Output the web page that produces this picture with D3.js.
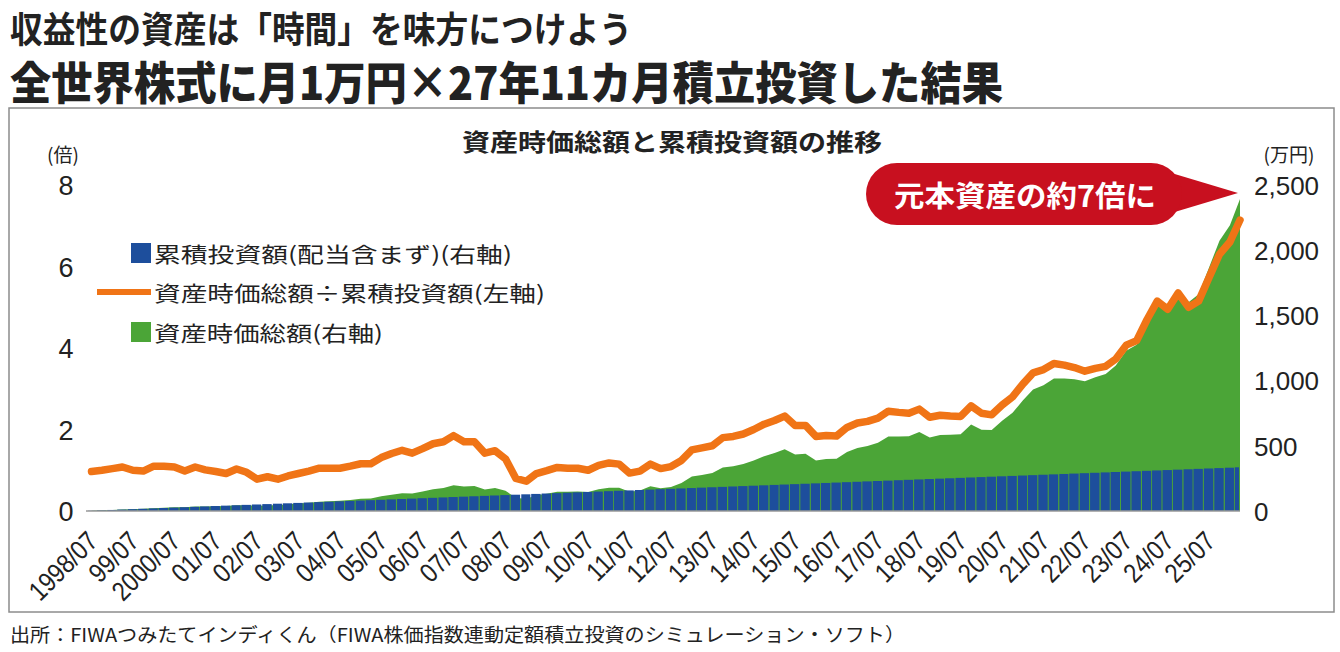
<!DOCTYPE html>
<html>
<head>
<meta charset="utf-8">
<script src="https://d3js.org/d3.v7.min.js"></script>
<style>
body { margin: 0; background: #fff; }
text { font-family: "Noto Sans CJK JP", sans-serif; fill: #222; }
.num { font-family: "Liberation Sans", Arial, sans-serif; }
</style>
</head>
<body>
<svg id="chart" width="1340" height="652"></svg>
<script>
// quarterly points, 1998/08 .. 2026/05
// 資産時価総額÷累積投資額 (倍, left axis)
var ratio = [
  0.97, 1.00, 1.04, 1.08, 1.00, 0.98, 1.10, 1.10, 1.08, 0.98,
  1.08, 1.01, 0.97, 0.92, 1.03, 0.95, 0.78, 0.84, 0.78, 0.86,
  0.92, 0.98, 1.05, 1.05, 1.05, 1.10, 1.16, 1.16, 1.31, 1.41,
  1.49, 1.42, 1.53, 1.65, 1.70, 1.85, 1.70, 1.70, 1.42, 1.48,
  1.28, 0.80, 0.73, 0.92, 0.99, 1.07, 1.05, 1.05, 1.00, 1.12,
  1.18, 1.15, 0.93, 0.98, 1.15, 1.04, 1.09, 1.24, 1.50, 1.55,
  1.60, 1.80, 1.83, 1.89, 2.00, 2.13, 2.22, 2.33, 2.10, 2.10,
  1.83, 1.85, 1.84, 2.05, 2.16, 2.20, 2.28, 2.45, 2.42, 2.40,
  2.50, 2.30, 2.35, 2.33, 2.32, 2.58, 2.40, 2.36, 2.60, 2.80,
  3.12, 3.39, 3.47, 3.62, 3.58, 3.52, 3.43, 3.50, 3.55, 3.73,
  4.07, 4.18, 4.70, 5.15, 4.95, 5.35, 5.00, 5.15, 5.73, 6.30,
  6.60, 7.14
];
// 資産時価総額 (万円, right axis)
var assetValue = [
  2, 5, 8, 12, 14, 17, 22, 25, 28, 28,
  35, 35, 37, 38, 45, 45, 39, 45, 44, 51,
  57, 64, 71, 75, 78, 85, 93, 96, 113, 125,
  137, 135, 150, 167, 177, 198, 187, 192, 165, 176,
  156, 100, 93, 121, 133, 147, 147, 150, 146, 167,
  179, 178, 147, 158, 189, 174, 185, 215, 264, 277,
  291, 333, 344, 361, 388, 420, 444, 473, 433, 439,
  388, 398, 401, 453, 484, 499, 524, 571, 571, 574,
  605, 564, 583, 585, 589, 663, 624, 621, 692, 753,
  849, 932, 965, 1017, 1017, 1010, 995, 1026, 1051, 1115,
  1229, 1275, 1448, 1602, 1554, 1696, 1600, 1663, 1868, 2073,
  2191, 2392
];
// 累積投資額 (万円, right axis)
var invested = [
  2, 5, 8, 11, 14, 17, 20, 23, 26, 29,
  32, 35, 38, 41, 44, 47, 50, 53, 56, 59,
  62, 65, 68, 71, 74, 77, 80, 83, 86, 89,
  92, 95, 98, 101, 104, 107, 110, 113, 116, 119,
  122, 125, 128, 131, 134, 137, 140, 143, 146, 149,
  152, 155, 158, 161, 164, 167, 170, 173, 176, 179,
  182, 185, 188, 191, 194, 197, 200, 203, 206, 209,
  212, 215, 218, 221, 224, 227, 230, 233, 236, 239,
  242, 245, 248, 251, 254, 257, 260, 263, 266, 269,
  272, 275, 278, 281, 284, 287, 290, 293, 296, 299,
  302, 305, 308, 311, 314, 317, 320, 323, 326, 329,
  332, 335
];
var tickLabels = ["1998/07", "99/07", "2000/07", "01/07", "02/07", "03/07", "04/07",
  "05/07", "06/07", "07/07", "08/07", "09/07", "10/07", "11/07", "12/07", "13/07",
  "14/07", "15/07", "16/07", "17/07", "18/07", "19/07", "20/07", "21/07", "22/07",
  "23/07", "24/07", "25/07"];
var leftTicks = [0, 2, 4, 6, 8];
var rightTicks = [0, 500, 1000, 1500, 2000, 2500];
var legendLabels = ["累積投資額(配当含まず)(右軸)", "資産時価総額÷累積投資額(左軸)", "資産時価総額(右軸)"];

var blue = "#1d4e9c", orange = "#f07416", green = "#4ba537", red = "#c8101f";

var svg = d3.select("#chart");
var dates = d3.timeMonth.range(new Date(1998, 7, 1), new Date(2026, 5, 1), 3);
var tickDates = d3.timeMonth.range(new Date(1998, 6, 1), new Date(2025, 7, 1), 12);
var data = dates.map(function(d, i) {
  return { date: d, r: ratio[i], v: assetValue[i], inv: invested[i] };
});

var x0 = 88, x1 = 1240;
var x = d3.scaleTime()
  .domain([new Date(1998, 6, 1), new Date(2026, 4, 1)])
  .range([x0, x1]);
var yL = d3.scaleLinear().domain([0, 8]).range([511, 185]);
var yR = d3.scaleLinear().domain([0, 2500]).range([511, 185]);

// titles
svg.append("text")
  .attr("x", 10).attr("y", 27)
  .attr("dominant-baseline", "central")
  .attr("font-size", 36).attr("font-weight", 700)
  .attr("textLength", 622).attr("lengthAdjust", "spacingAndGlyphs")
  .text("収益性の資産は「時間」を味方につけよう");
svg.append("text")
  .attr("x", 10).attr("y", 80)
  .attr("dominant-baseline", "central")
  .attr("font-size", 45).attr("font-weight", 900)
  .attr("textLength", 993).attr("lengthAdjust", "spacingAndGlyphs")
  .text("全世界株式に月1万円×27年11カ月積立投資した結果");

// frame
svg.append("rect")
  .attr("x", 9).attr("y", 108).attr("width", 1325).attr("height", 504)
  .attr("fill", "none").attr("stroke", "#8c8c8c").attr("stroke-width", 1.5);

svg.append("text")
  .attr("x", 672).attr("y", 140)
  .attr("text-anchor", "middle").attr("dominant-baseline", "central")
  .attr("font-size", 24).attr("font-weight", 700)
  .attr("textLength", 420).attr("lengthAdjust", "spacingAndGlyphs")
  .text("資産時価総額と累積投資額の推移");

// green area (資産時価総額)
svg.append("path")
  .datum(data)
  .attr("fill", green)
  .attr("d", d3.area()
    .x(function(d) { return x(d.date); })
    .y0(yR(0))
    .y1(function(d) { return yR(d.v); }));

// blue bars (累積投資額)
svg.append("g").selectAll("rect")
  .data(data)
  .enter().append("rect")
    .attr("fill", blue)
    .attr("x", function(d) {
      var w = x(d3.timeMonth.offset(d.date, 3)) - x(d.date);
      return Math.max(x0, x(d.date) - w / 2);
    })
    .attr("width", function(d) {
      var w = x(d3.timeMonth.offset(d.date, 3)) - x(d.date);
      var l = Math.max(x0, x(d.date) - w / 2), r = Math.min(x1, x(d.date) + w / 2);
      return Math.max(0, r - l - 1);
    })
    .attr("y", function(d) { return yR(d.inv); })
    .attr("height", function(d) { return yR(0) - yR(d.inv); });

// baseline
svg.append("line")
  .attr("x1", 86).attr("x2", x1).attr("y1", yR(0)).attr("y2", yR(0))
  .attr("stroke", "#999").attr("stroke-width", 1.5);

// orange line (倍率)
svg.append("path")
  .datum(data)
  .attr("fill", "none")
  .attr("stroke", orange)
  .attr("stroke-width", 7.5)
  .attr("stroke-linejoin", "round")
  .attr("stroke-linecap", "round")
  .attr("d", d3.line()
    .x(function(d) { return x(d.date); })
    .y(function(d) { return yL(d.r); }));

// left axis
var gL = svg.append("g")
  .attr("transform", "translate(" + x0 + ",0)")
  .call(d3.axisLeft(yL).tickValues(leftTicks).tickSize(0).tickFormat(d3.format("d")));
gL.select(".domain").remove();
gL.selectAll("text")
  .attr("class", "num")
  .attr("x", -22).attr("dy", "0.36em")
  .attr("text-anchor", "middle")
  .attr("font-size", 27);

// right axis
var gR = svg.append("g")
  .attr("transform", "translate(" + x1 + ",0)")
  .call(d3.axisRight(yR).tickValues(rightTicks).tickSize(0).tickFormat(d3.format(",")));
gR.select(".domain").remove();
gR.selectAll("text")
  .attr("class", "num")
  .attr("x", 14).attr("dy", "0.36em")
  .attr("font-size", 26);

svg.append("text")
  .attr("x", 63).attr("y", 153)
  .attr("text-anchor", "middle").attr("dominant-baseline", "central")
  .attr("font-size", 19)
  .text("(倍)");
svg.append("text")
  .attr("x", 1289).attr("y", 153)
  .attr("text-anchor", "middle").attr("dominant-baseline", "central")
  .attr("font-size", 19)
  .text("(万円)");

// x axis
var gX = svg.append("g")
  .attr("transform", "translate(0," + yR(0) + ")")
  .call(d3.axisBottom(x).tickValues(tickDates).tickSize(0)
    .tickFormat(function(d, i) { return tickLabels[i]; }));
gX.select(".domain").remove();
gX.selectAll("text")
  .attr("class", "num")
  .attr("x", 0).attr("y", 0).attr("dy", "0.36em")
  .attr("text-anchor", "end")
  .attr("transform", "translate(4,25) rotate(-45) scale(0.86,1)")
  .attr("font-size", 27);

// legend
var legend = svg.append("g");
legend.append("rect").attr("x", 131).attr("y", 243).attr("width", 20).attr("height", 20).attr("fill", blue);
legend.append("line").attr("x1", 97).attr("x2", 151).attr("y1", 292).attr("y2", 292)
  .attr("stroke", orange).attr("stroke-width", 6);
legend.append("rect").attr("x", 131).attr("y", 322).attr("width", 20).attr("height", 20).attr("fill", green);
var legendY = [253, 292, 332], legendW = [358, 391, 229];
legendLabels.forEach(function(t, i) {
  legend.append("text")
    .attr("x", 154).attr("y", legendY[i])
    .attr("dominant-baseline", "central")
    .attr("font-size", 21)
    .attr("textLength", legendW[i]).attr("lengthAdjust", "spacingAndGlyphs")
    .text(t);
});

// callout
var callout = svg.append("g");
callout.append("path")
  .attr("d", "M1168,172 L1238,193 L1168,214 Z")
  .attr("fill", red);
callout.append("rect")
  .attr("x", 866).attr("y", 163).attr("width", 316).attr("height", 62).attr("rx", 31)
  .attr("fill", red);
callout.append("text")
  .attr("x", 1025).attr("y", 194)
  .attr("text-anchor", "middle").attr("dominant-baseline", "central")
  .attr("font-size", 29).attr("font-weight", 700)
  .attr("textLength", 262).attr("lengthAdjust", "spacingAndGlyphs")
  .style("fill", "#fff")
  .text("元本資産の約7倍に");

// source
svg.append("text")
  .attr("x", 10).attr("y", 633)
  .attr("dominant-baseline", "central")
  .attr("font-size", 19)
  .attr("textLength", 895).attr("lengthAdjust", "spacingAndGlyphs")
  .text("出所：FIWAつみたてインディくん（FIWA株価指数連動定額積立投資のシミュレーション・ソフト）");
</script>
</body>
</html>
